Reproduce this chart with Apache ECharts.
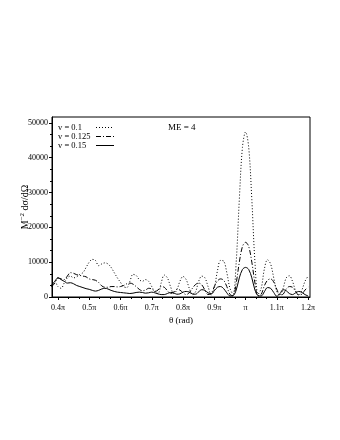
<!DOCTYPE html>
<html>
<head>
<meta charset="utf-8">
<title>ME = 4</title>
<script src="https://cdn.jsdelivr.net/npm/echarts@6/dist/echarts.min.js"></script>
<style>
    html, body { margin: 0; padding: 0; background: #fff; }
    #chart { width: 340px; height: 440px; }
</style>
</head>
<body>
<div id="chart"></div>
<script>
// θ in units of π
var theta = [
    0.38, 0.39, 0.40, 0.41, 0.42, 0.43, 0.44, 0.45, 0.46, 0.47,
    0.48, 0.49, 0.50, 0.51, 0.52, 0.53, 0.54, 0.55, 0.56, 0.57,
    0.58, 0.59, 0.60, 0.61, 0.62, 0.63, 0.64, 0.65, 0.66, 0.67,
    0.68, 0.69, 0.70, 0.71, 0.72, 0.73, 0.74, 0.75, 0.76, 0.77,
    0.78, 0.79, 0.80, 0.81, 0.82, 0.83, 0.84, 0.85, 0.86, 0.87,
    0.88, 0.89, 0.90, 0.91, 0.92, 0.93, 0.94, 0.95, 0.96, 0.97,
    0.98, 0.99, 1.00, 1.01, 1.02, 1.03, 1.04, 1.05, 1.06, 1.07,
    1.08, 1.09, 1.10, 1.11, 1.12, 1.13, 1.14, 1.15, 1.16, 1.17,
    1.18, 1.19, 1.20
];

// v = 0.1 (dotted)
var v100 = [
    3000, 4500, 3000, 2500, 4000, 5500, 6000, 5500, 5800, 6500,
    7000, 8500, 10000, 10800, 10500, 9000, 9500, 9800, 9500, 8500,
    7000, 5500, 4200, 3000, 2700, 4500, 6500, 6200, 5000, 4500,
    5000, 4500, 3000, 1500, 1000, 4000, 6300, 5500, 3000, 1000,
    2000, 4500, 5900, 5000, 2500, 700, 1500, 4500, 6000, 5500,
    3000, 600, 2500, 7500, 10500, 10300, 7000, 2500, 800, 10000,
    28000, 43000, 47400, 43000, 28000, 10000, 800, 2500, 8000, 10700,
    9500, 5500, 1500, 500, 2500, 5500, 6100, 4500, 1800, 500,
    2000, 4500, 6000
];

// v = 0.125 (dash-dot)
var v125 = [
    3000, 4000, 5500, 5200, 5000, 6000, 7000, 6800, 6400, 6200,
    6000, 5800, 5200, 5000, 4800, 4200, 3200, 2800, 2800, 3000,
    3000, 2900, 3000, 3300, 3800, 4000, 3700, 3000, 2200, 1800,
    2000, 2500, 2300, 1600, 2000, 3000, 2800, 1800, 1000, 1400,
    2200, 2000, 1200, 700, 1200, 2500, 3600, 4000, 3500, 2000,
    700, 1000, 3000, 4600, 5200, 4800, 3000, 800, 300, 4000,
    10000, 14500, 15700, 14500, 10000, 4000, 300, 800, 3200, 4800,
    5200, 4300, 2200, 600, 800, 2300, 3000, 2800, 1600, 600,
    800, 2000, 2800
];

// v = 0.15 (solid)
var v150 = [
    3500, 4500, 5500, 5000, 4500, 4000, 4100, 3800, 3300, 3000,
    2700, 2400, 2200, 1900, 1700, 1900, 2300, 2500, 2300, 1900,
    1600, 1400, 1300, 1200, 1100, 1000, 1100, 1300, 1400, 1300,
    1100, 1200, 1400, 1200, 900, 700, 700, 1000, 1300, 1200,
    800, 900, 1400, 1600, 1400, 900, 800, 1500, 2100, 1900,
    1200, 900, 1800, 2800, 3000, 2400, 1200, 300, 400, 2000,
    5500, 7900, 8500, 7900, 5500, 2000, 400, 300, 1500, 2700,
    2500, 1300, 200, 1000, 2100, 1800, 1000, 700, 1200, 1600,
    1300, 700, 300
];

var xTicks = [0.4, 0.5, 0.6, 0.7, 0.8, 0.9, 1.0, 1.1, 1.2];
var xTickLabels = ['0.4\u03c0', '0.5\u03c0', '0.6\u03c0', '0.7\u03c0', '0.8\u03c0', '0.9\u03c0', '\u03c0', '1.1\u03c0', '1.2\u03c0'];
var yTicks = [0, 10000, 20000, 30000, 40000, 50000];

var FONT = 'Liberation Serif';

/**
 * 组合 [x, y] 数据
 */
function pairs(xs, ys) {
    var out = [];
    for (var i = 0; i < xs.length; i++) {
        out.push([xs[i], ys[i]]);
    }
    return out;
}

/**
 * 主刻度之间的次刻度 (三等分)
 */
function minorOf(ticks) {
    var out = [];
    for (var i = 0; i < ticks.length - 1; i++) {
        var step = (ticks[i + 1] - ticks[i]) / 3;
        out.push(ticks[i] + step, ticks[i] + 2 * step);
    }
    return out;
}

function lineSeries(name, ys, type) {
    return {
        name: name,
        type: 'line',
        data: pairs(theta, ys),
        smooth: 0.35,
        symbol: 'none',
        xAxisIndex: 0,
        yAxisIndex: 0,
        lineStyle: { color: '#000', width: 1, type: type },
        itemStyle: { color: '#000' },
        animation: false
    };
}

function initChart(id) {
    var chart = echarts.init(document.getElementById(id));
    var xMin = 0.381, xMax = 1.206, yMax = 51700;
    var option = {
        backgroundColor: '#fff',
        animation: false,
        title: {
            text: 'ME = 4',
            left: 163, top: 118,
            textStyle: { fontFamily: FONT, fontSize: 9, fontWeight: 'normal', color: '#000' }
        },
        legend: {
            orient: 'vertical',
            left: 53, top: 118,
            align: 'right',
            itemGap: 0,
            itemWidth: 18, itemHeight: 8,
            itemStyle: { opacity: 0 },
            lineStyle: { width: 1 },
            formatter: '{a|{name}}',
            textStyle: {
                fontFamily: FONT, fontSize: 8.5, color: '#000',
                rich: { a: { fontFamily: FONT, fontSize: 8.5, color: '#000', width: 33, align: 'left' } }
            },
            data: ['v = 0.1', 'v = 0.125', 'v = 0.15']
        },
        grid: {
            left: 52, right: 30, top: 117, bottom: 143,
            containLabel: false,
            outerBoundsMode: 'none',
            show: true, borderColor: '#000', borderWidth: 1
        },
        xAxis: [
            {
                type: 'value', min: xMin, max: xMax,
                name: '\u03b8 (rad)', nameLocation: 'middle', nameGap: 19,
                nameTextStyle: { fontFamily: FONT, fontSize: 9, color: '#000' },
                axisLine: { show: true, lineStyle: { color: '#000' } },
                axisTick: { show: true, length: 3, customValues: xTicks, lineStyle: { color: '#000' } },
                axisLabel: {
                    customValues: xTicks, fontFamily: FONT, fontSize: 8, color: '#000', margin: 7,
                    formatter: function (v) {
                        var i = xTicks.findIndex(function (t) { return Math.abs(t - v) < 1e-6; });
                        return i >= 0 ? xTickLabels[i] : '';
                    }
                },
                splitLine: { show: false }
            },
            {
                type: 'value', min: xMin, max: xMax, position: 'bottom',
                axisLine: { show: false },
                axisTick: { show: true, length: 2, customValues: minorOf(xTicks), lineStyle: { color: '#000' } },
                axisLabel: { show: false },
                splitLine: { show: false }
            }
        ],
        yAxis: [
            {
                type: 'value', min: 0, max: yMax,
                name: 'M{sup|\u22122} d\u03c3/d\u03a9', nameLocation: 'middle', nameGap: 20,
                nameMoveOverlap: false,
                nameTextStyle: {
                    fontFamily: FONT, fontSize: 10, color: '#000',
                    rich: { sup: { fontFamily: FONT, fontSize: 7, verticalAlign: 'bottom', padding: [0, 0, 6, 0], color: '#000' } }
                },
                axisLine: { show: true, lineStyle: { color: '#000' } },
                axisTick: { show: true, length: 3, customValues: yTicks, lineStyle: { color: '#000' } },
                axisLabel: {
                    customValues: yTicks, fontFamily: FONT, fontSize: 8, color: '#000', margin: 4,
                    formatter: function (v) { return String(v); }
                },
                splitLine: { show: false }
            },
            {
                type: 'value', min: 0, max: yMax, position: 'left',
                axisLine: { show: false },
                axisTick: { show: true, length: 2, customValues: minorOf(yTicks), lineStyle: { color: '#000' } },
                axisLabel: { show: false },
                splitLine: { show: false }
            }
        ],
        series: [
            lineSeries('v = 0.1', v100, [1, 2]),
            lineSeries('v = 0.125', v125, [5, 2, 1, 2]),
            lineSeries('v = 0.15', v150, 'solid')
        ]
    };
    chart.setOption(option);
}

initChart('chart');
</script>
</body>
</html>
